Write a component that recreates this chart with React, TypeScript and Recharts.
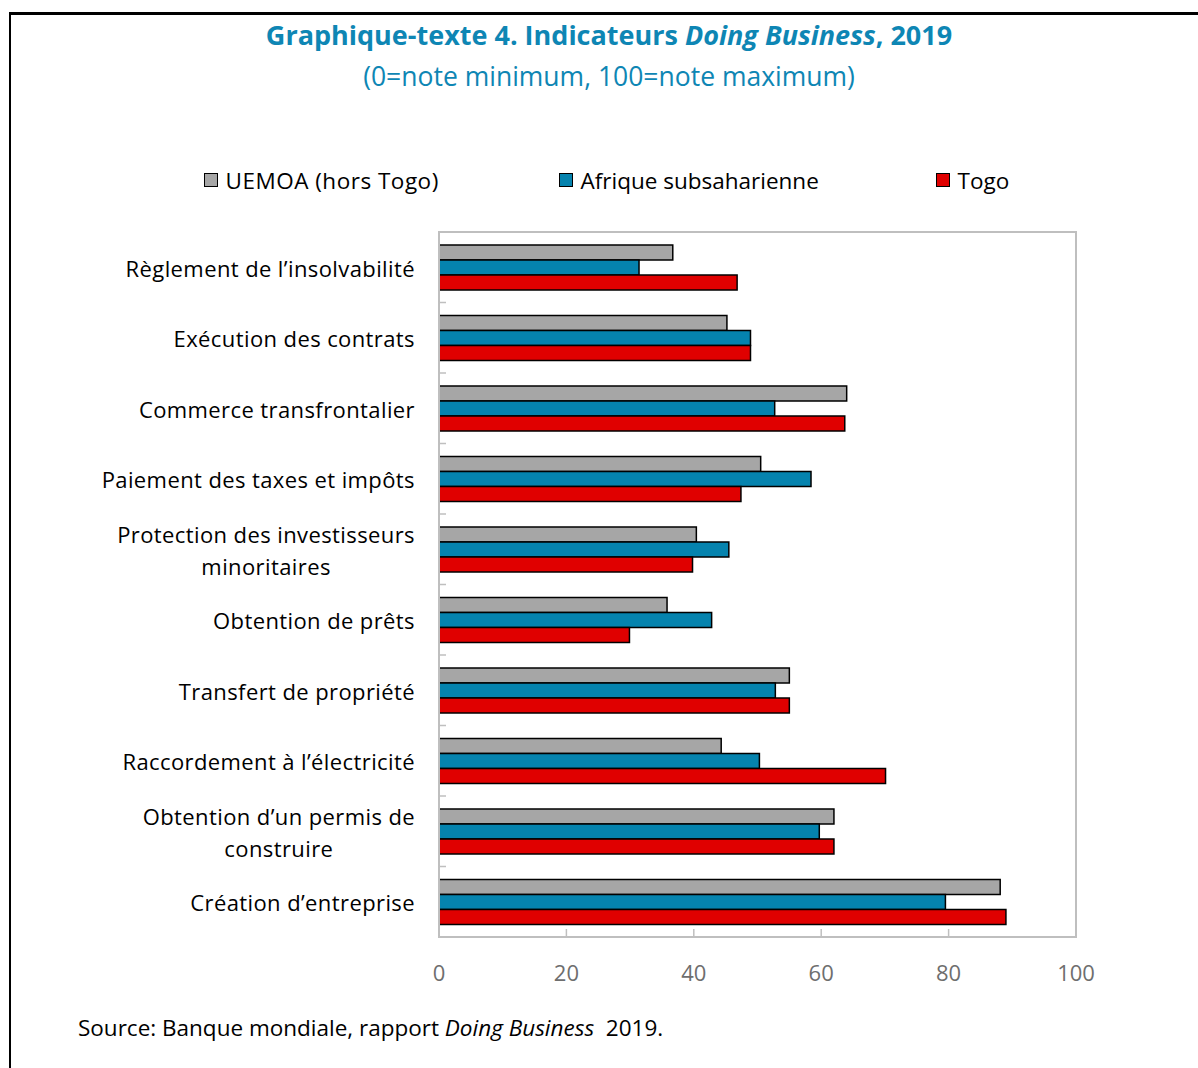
import React from 'react';
import { BarChart, Bar, XAxis, YAxis, ReferenceArea } from 'recharts';

const categories = [
  'Règlement de l’insolvabilité',
  'Exécution des contrats',
  'Commerce transfrontalier',
  'Paiement des taxes et impôts',
  'Protection des investisseurs\nminoritaires',
  'Obtention de prêts',
  'Transfert de propriété',
  'Raccordement à l’électricité',
  'Obtention d’un permis de\nconstruire',
  'Création d’entreprise',
];
const uemoa = [36.7, 45.2, 64.0, 50.5, 40.4, 35.8, 55.0, 44.3, 62.0, 88.1];
const ssa = [31.4, 48.9, 52.7, 58.4, 45.5, 42.8, 52.8, 50.3, 59.7, 79.5];
const togo = [46.8, 48.9, 63.7, 47.4, 39.8, 29.9, 55.0, 70.1, 62.0, 89.0];
const xTicks = [0, 20, 40, 60, 80, 100];
const seriesNames = ['UEMOA (hors Togo)', 'Afrique subsaharienne', 'Togo'];
const seriesColors = ['#A6A6A6', '#0583AE', '#E00000'];

const data = categories.map((c, i) => ({ cat: c, uemoa: uemoa[i], ssa: ssa[i], togo: togo[i] }));

const FONT = "'Open Sans', 'Noto Sans', sans-serif";
const TITLE_COLOR = '#0E86B4';
const LABEL_SIZE = 22;
const LABEL_SPACING = 0.4;
const TICK_MARGIN = 24;
const BORDER = '#BFBFBF';

let ctx: CanvasRenderingContext2D | null = null;
function measure(t: string, size: number) {
  if (!ctx) ctx = document.createElement('canvas').getContext('2d');
  if (!ctx) return t.length * size * 0.5;
  ctx.font = `${size}px 'Open Sans'`;
  return ctx.measureText(t).width + t.length * LABEL_SPACING;
}

const CatTick = (props: any) => {
  const { x, y, payload, index, visibleTicksCount } = props;
  const lines = String(payload.value).split('\n');
  const half = payload && typeof payload.offset === 'number' ? payload.offset : 0;
  const last = typeof visibleTicksCount === 'number' ? index >= visibleTicksCount - 1 : index >= categories.length - 1;
  const ax = x + TICK_MARGIN;
  const mark = !last && half > 0 ? (
    <line x1={ax} x2={ax + 7} y1={y + half} y2={y + half} stroke={BORDER} strokeWidth={1.5} />
  ) : null;
  if (lines.length === 1) {
    return (
      <g>
        {mark}
        <text x={x} y={y + 2} dy="0.35em" textAnchor="end" fontFamily={FONT} fontSize={LABEL_SIZE} letterSpacing={LABEL_SPACING} fill="#000">
          {lines[0]}
        </text>
      </g>
    );
  }
  const w = Math.max(...lines.map((l) => measure(l, LABEL_SIZE)));
  const cx = x - w / 2;
  return (
    <g>
      {mark}
      {lines.map((l, i) => (
        <text key={i} x={cx} y={y + 2 + (i - (lines.length - 1) / 2) * 32} dy="0.35em" textAnchor="middle" fontFamily={FONT} fontSize={LABEL_SIZE} letterSpacing={LABEL_SPACING} fill="#000">
          {l}
        </text>
      ))}
    </g>
  );
};

const XTick = (props: any) => {
  const { x, y, payload } = props;
  return (
    <g>
      <line x1={x} x2={x} y1={y} y2={y - 8} stroke={BORDER} strokeWidth={1.5} />
      <text x={x} y={y + 44} textAnchor="middle" fontFamily={FONT} fontSize={22} fill="#6E6E6E">
        {payload.value}
      </text>
    </g>
  );
};

const legendPos = [204, 559, 936];

export default function App() {
  return (
    <div style={{ position: 'absolute', left: 0, top: 0, width: 1198, height: 1068, background: '#fff', fontFamily: FONT }}>
      <div style={{ position: 'absolute', left: 9, top: 12, width: 1189, height: 1056, borderTop: '3px solid #000', borderLeft: '2px solid #000' }} />
      <div style={{ position: 'absolute', left: 0, width: 1218, top: 16, textAlign: 'center', color: TITLE_COLOR, fontSize: 27, fontWeight: 700, lineHeight: '38px' }}>
        Graphique-texte 4. Indicateurs <i>Doing Business</i>, 2019
      </div>
      <div style={{ position: 'absolute', left: 0, width: 1218, top: 57, textAlign: 'center', color: TITLE_COLOR, fontSize: 26.5, lineHeight: '38px' }}>
        (0=note minimum, 100=note maximum)
      </div>
      {seriesNames.map((n, i) => (
        <div key={n} style={{ position: 'absolute', left: legendPos[i], top: 163, height: 34, display: 'flex', alignItems: 'center', fontSize: 22.5, letterSpacing: i === 0 ? 0.5 : 0, color: '#000' }}>
          <span style={{ display: 'inline-block', width: 11.5, height: 11.5, background: seriesColors[i], border: '1.5px solid #000', marginRight: 8 }} />
          {n}
        </div>
      ))}
      <div style={{ position: 'absolute', left: 78, top: 1012, fontSize: 22.5, color: '#000', lineHeight: '32px' }}>
        Source: Banque mondiale, rapport <i>Doing Business</i>&nbsp; 2019.
      </div>
      <div style={{ position: 'absolute', left: 0, top: 0 }}>
        <BarChart
          width={1198}
          height={1068}
          data={data}
          layout="vertical"
          barSize={15}
          barGap={0}
          barCategoryGap={0}
          margin={{ top: 232, right: 122, bottom: 71, left: 0 }}
        >
          <XAxis
            type="number"
            domain={[0, 100]}
            ticks={xTicks}
            interval={0}
            tickLine={false}
            tickSize={0}
            tickMargin={0}
            axisLine={{ stroke: BORDER, strokeWidth: 2 }}
            tick={<XTick />}
            height={60}
          />
          <YAxis
            yAxisId="cat"
            type="category"
            dataKey="cat"
            width={439}
            tickLine={false}
            tickSize={0}
            tickMargin={TICK_MARGIN}
            interval={0}
            axisLine={{ stroke: BORDER, strokeWidth: 2 }}
            tick={<CatTick />}
          />
          <Bar yAxisId="cat" dataKey="uemoa" name={seriesNames[0]} fill={seriesColors[0]} stroke="#000" strokeWidth={1.5} isAnimationActive={false} />
          <Bar yAxisId="cat" dataKey="ssa" name={seriesNames[1]} fill={seriesColors[1]} stroke="#000" strokeWidth={1.5} isAnimationActive={false} />
          <Bar yAxisId="cat" dataKey="togo" name={seriesNames[2]} fill={seriesColors[2]} stroke="#000" strokeWidth={1.5} isAnimationActive={false} />
          <ReferenceArea yAxisId="cat" x1={0} x2={100} fill="none" fillOpacity={0} stroke={BORDER} strokeWidth={2} ifOverflow="visible" />
        </BarChart>
      </div>
    </div>
  );
}
